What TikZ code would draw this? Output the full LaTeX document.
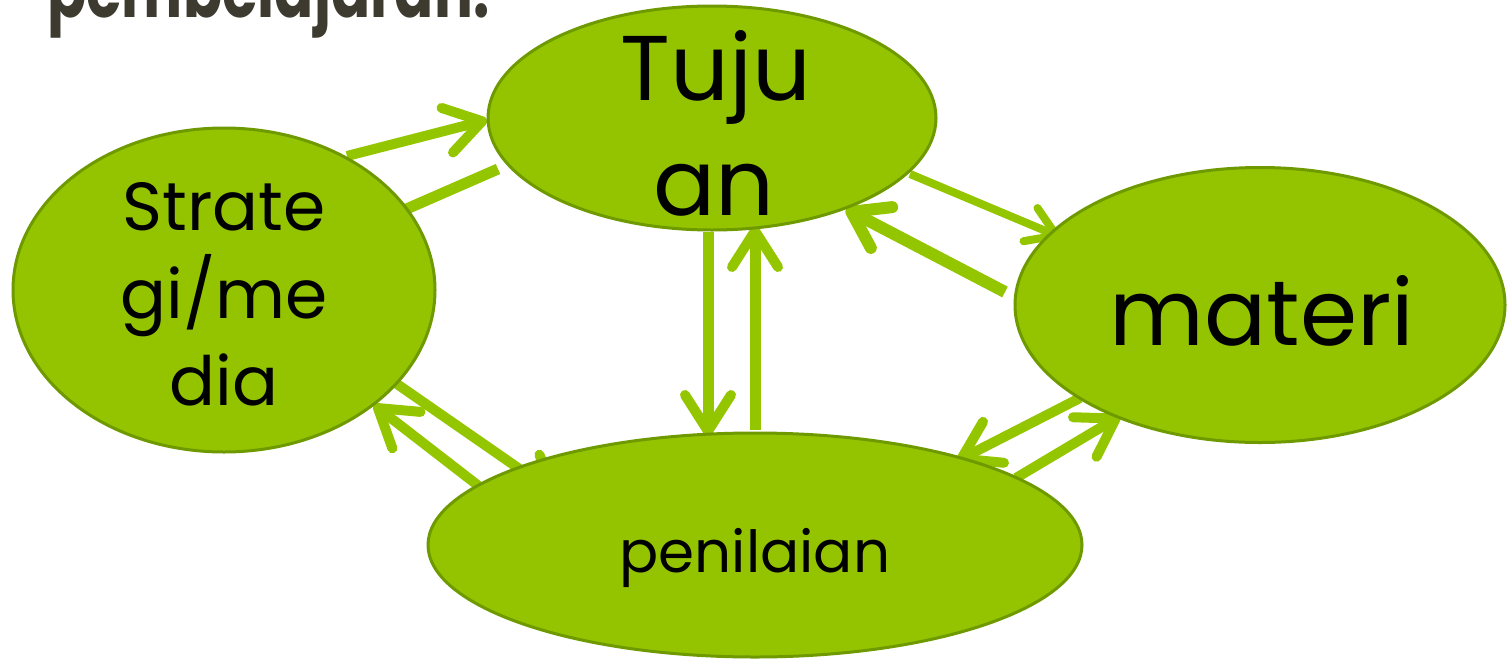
\documentclass[tikz,border=0pt]{standalone}
\usepackage{fontspec}
\setmainfont{Poppins}
\newfontfamily\ttlfont[FakeStretch=0.74]{Poppins}
\usetikzlibrary{arrows.meta,shapes.geometric}
\definecolor{gfill}{HTML}{94C400}
\definecolor{gline}{HTML}{6E9A00}
\definecolor{garrow}{HTML}{94C600}
\definecolor{ttl}{HTML}{3D3B2F}
\begin{document}
\begin{tikzpicture}[x=1pt,y=-1pt,
  blob/.style={ellipse, draw=gline, line width=3pt, fill=gfill, inner sep=0pt},
  conn/.style={draw=garrow, line width=10pt,
    -{Straight Barb[length=36pt,width=46pt,line width=10pt,round]}},
  lbl/.style={anchor=base, inner sep=0pt, text=black}]
\useasboundingbox (0,0) rectangle (1507,659);
% title (cut off at top)
\node[anchor=base west, inner sep=0pt, text=ttl, font=\fontsize{78}{78}\ttlfont\bfseries\selectfont] (title) at (47,17) {pembelajaran.};
% connector end points
\coordinate (a1s) at (347,156); \coordinate (a1e) at (487,120);
\coordinate (a2s) at (498,169); \coordinate (a2e) at (340,238);
\coordinate (a3s) at (910,174); \coordinate (a3e) at (1060,237);
\coordinate (a4s) at (1005,292); \coordinate (a4e) at (846,209);
\coordinate (a5s) at (708,232); \coordinate (a5e) at (708,436);
\coordinate (a6s) at (755,430); \coordinate (a6e) at (755,226);
\coordinate (a7s) at (397,384); \coordinate (a7e) at (560,497);
\coordinate (a8s) at (480,487); \coordinate (a8e) at (374,405);
\coordinate (a9s) at (1080,398); \coordinate (a9e) at (957,461);
\coordinate (a10s) at (1016,478); \coordinate (a10e) at (1120,416);
% connectors
\draw[conn, line width=11pt] (a2s) -- (a2e);
\draw[conn] (a7s) -- (a7e);
\draw[conn] (a1s) -- (a1e);
\draw[conn, line width=8pt, -{Straight Barb[length=28pt,width=36pt,line width=8pt,round]}] (a3s) -- (a3e);
\draw[conn, line width=12pt, -{Straight Barb[length=34pt,width=46pt,line width=12pt,round]}] (a4s) -- (a4e);
\draw[conn, line width=11pt] (a5s) -- (a5e);
\draw[conn, line width=11pt] (a6s) -- (a6e);
\draw[conn] (a8s) -- (a8e);
\draw[conn] (a9s) -- (a9e);
\draw[conn] (a10s) -- (a10e);
% ellipses
\node[blob, minimum width=448pt, minimum height=224pt] (tuj) at (712,118) {};
\node[blob, minimum width=422pt, minimum height=324pt] (str) at (224,290) {};
\node[blob, minimum width=490pt, minimum height=275pt] (mat) at (1260,305) {};
\node[blob, minimum width=654pt, minimum height=224pt] (pen) at (755,545) {};
% texts
\node[lbl, font=\fontsize{92}{92}\selectfont] (t1) at (716,100) {Tuju};
\node[lbl, font=\fontsize{92}{92}\selectfont] (t2) at (714,215) {an};
\node[lbl, font=\fontsize{68}{68}\selectfont] (s1) at (224,230) {Strate};
\node[lbl, font=\fontsize{68}{68}\selectfont] (s2) at (224,318) {gi/me};
\node[lbl, font=\fontsize{68}{68}\selectfont] (s3) at (224,405) {dia};
\node[lbl, font=\fontsize{92}{92}\selectfont] (m1) at (1262,345) {materi};
\node[lbl, font=\fontsize{58}{58}\selectfont] (p1) at (755,572) {penilaian};
\end{tikzpicture}
\end{document}
